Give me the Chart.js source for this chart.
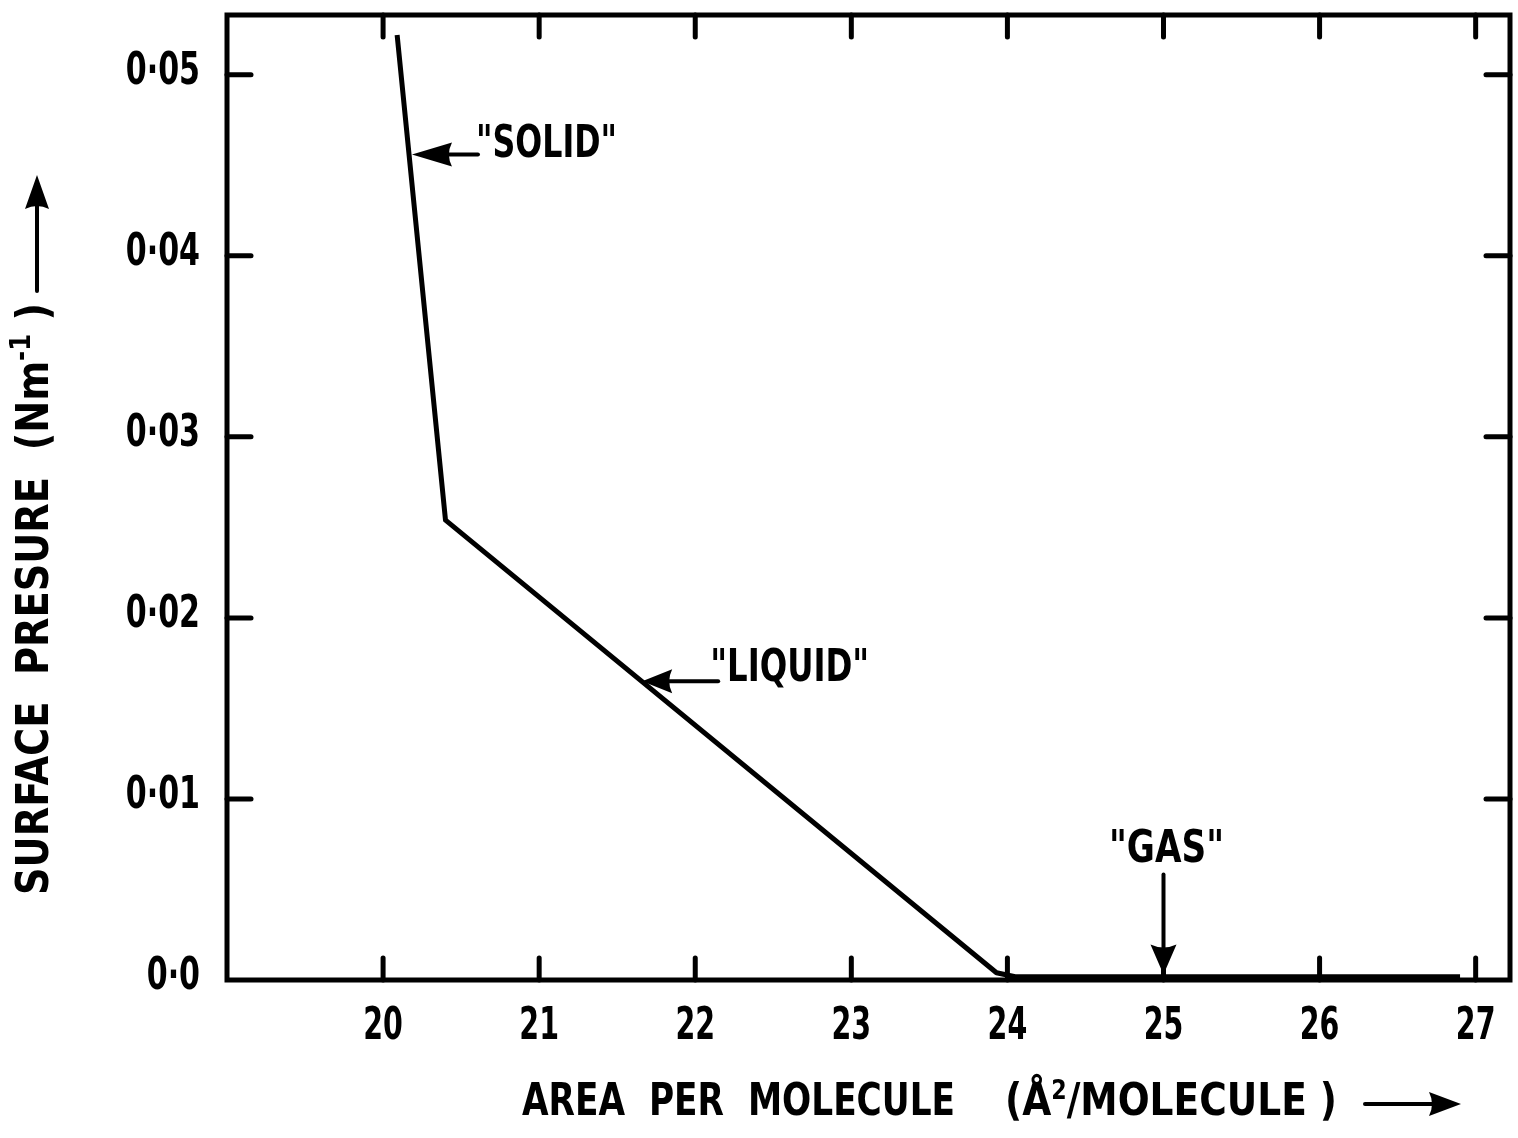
<!DOCTYPE html>
<html>
<head>
<meta charset="utf-8">
<script src="https://cdn.jsdelivr.net/npm/chart.js@4/dist/chart.umd.min.js"></script>
<style>
  html, body { margin: 0; padding: 0; background: #fff; }
</style>
</head>
<body>
<canvas id="chart" width="1518" height="1138"></canvas>
<script>
// isotherm
const areaValues = [20.09, 20.40, 23.93, 24.05, 26.9];
const pressureValues = [0.0522, 0.0254, 0.0004, 0.00018, 0.00018];

const xTicks = [20, 21, 22, 23, 24, 25, 26, 27];
const xTickLabels = ['20', '21', '22', '23', '24', '25', '26', '27'];
const yTicks = [0, 0.01, 0.02, 0.03, 0.04, 0.05];
const yTickLabels = ['0·0', '0·01', '0·02', '0·03', '0·04', '0·05'];

// phase labels and the point on the curve each arrow hits
const phaseLabels = ['"SOLID"', '"LIQUID"', '"GAS"'];
const phaseArea = [20.185, 21.66, 25.0];
const phasePressure = [0.0456, 0.0165, 0.0002];

const FONT = "'Liberation Sans Narrow', 'DejaVu Sans Condensed', sans-serif";

function line(ctx, x1, y1, x2, y2) {
  ctx.beginPath();
  ctx.moveTo(x1, y1);
  ctx.lineTo(x2, y2);
  ctx.stroke();
}

// dx,dy = direction the arrow points
function arrowHead(ctx, tipX, tipY, dx, dy, len, half) {
  const bx = tipX - dx * len, by = tipY - dy * len;
  const px = -dy, py = dx;
  ctx.beginPath();
  ctx.moveTo(tipX, tipY);
  ctx.lineTo(bx + px * half, by + py * half);
  ctx.quadraticCurveTo(bx + dx * 6, by + dy * 6, bx - px * half, by - py * half);
  ctx.closePath();
  ctx.fill();
}

// runs of text squeezed to a given total width (lettering in the figure is narrow)
function drawRuns(ctx, x, y, runs, width, align) {
  let total = 0;
  runs.forEach(r => {
    ctx.font = 'bold ' + r.size + 'px ' + FONT;
    r.w = ctx.measureText(r.text).width;
    total += r.w;
  });
  const sx = width ? width / total : 1;
  let start = x;
  if (align === 'center') start = x - total * sx / 2;
  if (align === 'right') start = x - total * sx;
  ctx.save();
  ctx.translate(start, y);
  ctx.scale(sx, 1);
  ctx.textAlign = 'left';
  let cx = 0;
  runs.forEach(r => {
    ctx.font = 'bold ' + r.size + 'px ' + FONT;
    ctx.fillText(r.text, cx, r.dy || 0);
    cx += r.w;
  });
  ctx.restore();
  return start + total * sx;
}

function squeeze(ctx, text, x, y, size, sx, align) {
  ctx.save();
  ctx.font = 'bold ' + size + 'px ' + FONT;
  ctx.translate(x, y);
  ctx.scale(sx, 1);
  ctx.textAlign = align;
  ctx.fillText(text, 0, 0);
  ctx.restore();
}

const figurePlugin = {
  id: 'figure',
  afterDatasetsDraw(chart) {
    const { ctx, chartArea: a, scales: { x, y } } = chart;
    ctx.save();
    ctx.strokeStyle = '#000';
    ctx.fillStyle = '#000';
    ctx.lineCap = 'round';
    ctx.textBaseline = 'middle';

    // frame
    ctx.lineWidth = 5;
    ctx.strokeRect(a.left, a.top, a.right - a.left, a.bottom - a.top);

    // inward ticks on all four sides
    xTicks.forEach(v => {
      const px = x.getPixelForValue(v);
      line(ctx, px, a.bottom, px, a.bottom - 22);
      line(ctx, px, a.top, px, a.top + 22);
    });
    yTicks.slice(1).forEach(v => {
      const py = y.getPixelForValue(v);
      line(ctx, a.left, py, a.left + 24, py);
      line(ctx, a.right, py, a.right - 24, py);
    });

    // tick labels
    xTicks.forEach((v, i) => {
      squeeze(ctx, xTickLabels[i], x.getPixelForValue(v), a.bottom + 48, 44, 0.72, 'center');
    });
    yTicks.forEach((v, i) => {
      squeeze(ctx, yTickLabels[i], a.left - 27, y.getPixelForValue(v) - 2, 44, 0.76, 'right');
    });

    // phase annotations
    ctx.lineWidth = 4;

    // solid
    let tx = x.getPixelForValue(phaseArea[0]);
    let ty = y.getPixelForValue(phasePressure[0]);
    arrowHead(ctx, tx, ty, -1, 0, 40, 12);
    line(ctx, tx + 30, ty, tx + 66, ty);
    drawRuns(ctx, tx + 64, ty - 9, [{ text: phaseLabels[0], size: 44 }], 141);

    // liquid
    tx = x.getPixelForValue(phaseArea[1]);
    ty = y.getPixelForValue(phasePressure[1]);
    arrowHead(ctx, tx, ty, -1, 0, 30, 12);
    line(ctx, tx + 25, ty, tx + 76, ty);
    drawRuns(ctx, tx + 68, ty - 12, [{ text: phaseLabels[1], size: 44 }], 159);

    // gas
    tx = x.getPixelForValue(phaseArea[2]);
    ty = y.getPixelForValue(phasePressure[2]) - 2;
    arrowHead(ctx, tx, ty, 0, 1, 30, 13);
    line(ctx, tx, ty - 20, tx, ty - 100);
    drawRuns(ctx, tx + 3, ty - 124, [{ text: phaseLabels[2], size: 44 }], 115, 'center');

    // x axis title
    drawRuns(ctx, 522, 1104, [{ text: 'AREA  PER  MOLECULE', size: 44 }], 433);
    const ex = drawRuns(ctx, 1005, 1104, [
      { text: '(Å', size: 44 },
      { text: '2', size: 26, dy: -12 },
      { text: '/MOLECULE )', size: 44 }
    ], 332);
    ctx.lineWidth = 4;
    line(ctx, ex + 28, 1104, ex + 100, 1104);
    arrowHead(ctx, ex + 124, 1104, 1, 0, 32, 12);

    // y axis title, rotated
    ctx.save();
    ctx.translate(37, 895);
    ctx.rotate(-Math.PI / 2);
    const ey = drawRuns(ctx, 0, 0, [
      { text: 'SURFACE  PRESURE  (Nm', size: 44 },
      { text: '-1', size: 28, dy: -14 },
      { text: ' )', size: 44 }
    ], 592);
    ctx.lineWidth = 4;
    line(ctx, ey + 12, 0, 895 - 205, 0);
    arrowHead(ctx, 895 - 175, 0, 1, 0, 34, 12);
    ctx.restore();

    ctx.restore();
  }
};

new Chart(document.getElementById('chart'), {
  type: 'scatter',
  data: {
    datasets: [{
      data: areaValues.map((v, i) => ({ x: v, y: pressureValues[i] })),
      showLine: true,
      borderColor: '#000',
      borderWidth: 5,
      borderJoinStyle: 'round',
      pointRadius: 0,
      tension: 0
    }]
  },
  options: {
    responsive: false,
    animation: false,
    layout: { padding: { top: 15, right: 8, left: 0, bottom: 0 } },
    plugins: { legend: { display: false }, tooltip: { enabled: false } },
    scales: {
      x: {
        type: 'linear',
        min: 19.0,
        max: 27.22,
        afterBuildTicks: s => { s.ticks = xTicks.map(v => ({ value: v })); },
        afterFit: s => { s.height = 158; s.paddingLeft = 0; s.paddingRight = 0; },
        grid: { display: false, drawTicks: false },
        border: { display: false },
        ticks: { display: false }
      },
      y: {
        type: 'linear',
        min: 0,
        max: 0.0533,
        afterBuildTicks: s => { s.ticks = yTicks.map(v => ({ value: v })); },
        afterFit: s => { s.width = 227; s.paddingTop = 0; s.paddingBottom = 0; },
        grid: { display: false, drawTicks: false },
        border: { display: false },
        ticks: { display: false }
      }
    }
  },
  plugins: [figurePlugin]
});
</script>
</body>
</html>
